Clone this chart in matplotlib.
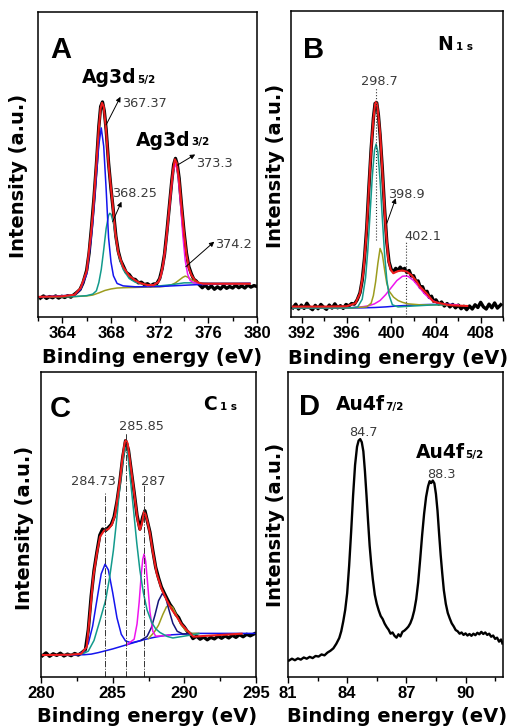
import matplotlib
matplotlib.use("Agg")
import matplotlib.pyplot as plt
from matplotlib.ticker import MultipleLocator

plt.rcParams['font.family'] = ['Liberation Sans', 'DejaVu Sans']
plt.rcParams['font.weight'] = 'bold'

RED = '#ee1c1c'
BLUE = '#1414ee'
TEAL = '#129a8c'
OLIVE = '#9c9c1e'
MAGENTA = '#ee14ee'
NAVY = '#14147a'
GRAY = '#3a3a3a'

# ---------- panel A : Ag 3d ----------
A_RAW = [(362.2, 6.2), (362.45, 6.9), (362.7, 6.1), (362.95, 6.7), (363.2, 6.3), (363.45, 6.9),
         (363.7, 6.2), (363.95, 6.8), (364.2, 6.4), (364.45, 7.0), (364.7, 6.5), (364.95, 7.3),
         (365.2, 8.1), (365.45, 9.0), (365.7, 11.2), (366.0, 15.3), (366.2, 21.0), (366.4, 29.5),
         (366.6, 39.0), (366.8, 50.0), (367.0, 62.5), (367.15, 69.0), (367.3, 70.5), (367.45, 67.5),
         (367.6, 61.5), (367.8, 50.5), (368.0, 42.0), (368.2, 34.5), (368.4, 26.5), (368.6, 21.5),
         (368.8, 18.5), (369.0, 16.8), (369.25, 14.6), (369.5, 13.9), (369.75, 12.5), (370.0, 12.3),
         (370.25, 11.2), (370.5, 11.4), (370.75, 10.6), (371.0, 10.9), (371.25, 10.2), (371.5, 10.8),
         (371.75, 10.9), (372.0, 12.6), (372.2, 15.8), (372.4, 20.6), (372.6, 28.2), (372.8, 36.5),
         (373.0, 44.8), (373.15, 50.0), (373.3, 52.0), (373.45, 50.0), (373.6, 45.5), (373.8, 36.5),
         (374.0, 28.0), (374.2, 21.0), (374.4, 16.5), (374.6, 14.2), (374.8, 12.4), (375.0, 11.8),
         (375.25, 10.6), (375.5, 9.6), (375.75, 10.5), (376.0, 9.3), (376.25, 10.2), (376.5, 9.1),
         (376.75, 9.9), (377.0, 9.2), (377.25, 10.3), (377.5, 9.4), (377.75, 10.0), (378.0, 9.5),
         (378.25, 10.4), (378.5, 9.6), (378.75, 10.2), (379.0, 9.5), (379.25, 10.5), (379.5, 9.8),
         (379.75, 10.3), (380.0, 10.0)]
A_RED = [(362.1, 6.6), (364.0, 6.8), (365.0, 7.3), (365.5, 9.5), (366.0, 15.0), (366.35, 27.0),
         (366.5, 33.5), (366.77, 48.5), (367.0, 62.0), (367.15, 68.5), (367.26, 70.2), (367.4, 69.0),
         (367.6, 61.0), (367.8, 50.0), (368.1, 38.4), (368.36, 27.5), (368.6, 21.0), (369.0, 16.4),
         (369.5, 13.5), (370.0, 12.0), (370.4, 11.1), (371.0, 10.5), (371.5, 10.4), (371.9, 11.5),
         (372.1, 13.6), (372.3, 17.7), (372.5, 23.8), (372.7, 32.0), (372.9, 40.5), (373.1, 48.2),
         (373.25, 51.7), (373.4, 50.5), (373.6, 45.0), (373.8, 36.0), (374.0, 27.5), (374.2, 20.5),
         (374.4, 16.0), (374.6, 13.8), (374.9, 12.0), (375.2, 11.2), (375.6, 10.9), (376.0, 10.9),
         (378.0, 10.9), (379.4, 10.9)]
A_BLUE = [(362.1, 6.6), (365.0, 7.2), (365.5, 9.0), (366.0, 14.0), (366.35, 25.0), (366.5, 31.0),
          (366.75, 44.0), (367.0, 56.5), (367.2, 62.0), (367.4, 56.0), (367.6, 42.0), (367.8, 26.0),
          (368.0, 18.0), (368.2, 13.5), (368.5, 11.0), (369.0, 10.2), (370.0, 9.9), (372.0, 10.0),
          (375.0, 10.6), (379.4, 11.0)]
A_TEAL = [(362.1, 6.6), (365.0, 6.7), (366.0, 7.0), (366.5, 7.5), (366.8, 8.6), (367.0, 11.3),
          (367.2, 15.6), (367.4, 22.0), (367.6, 29.0), (367.8, 33.3), (367.9, 34.0), (368.0, 33.7),
          (368.2, 30.9), (368.5, 23.3), (368.75, 18.5), (369.0, 15.6), (369.5, 12.6), (370.0, 11.4),
          (370.5, 10.9), (371.0, 10.4), (372.0, 10.2), (373.0, 10.6), (374.0, 11.2), (375.0, 11.2),
          (376.0, 11.1), (379.4, 11.1)]
A_MAGENTA = [(371.0, 10.3), (371.5, 10.5), (371.9, 11.5), (372.1, 13.5), (372.3, 17.5), (372.5, 23.5),
             (372.7, 31.5), (372.9, 40.0), (373.1, 47.5), (373.3, 50.5), (373.5, 47.0), (373.7, 38.0),
             (373.9, 27.0), (374.1, 18.5), (374.3, 14.0), (374.5, 12.0), (374.8, 11.2), (375.5, 11.0),
             (379.4, 11.0)]
A_OLIVE = [(362.1, 6.6), (365.0, 6.7), (366.0, 6.9), (366.5, 7.2), (367.0, 7.9), (367.5, 8.7),
           (368.0, 9.2), (368.5, 9.5), (369.0, 9.6), (370.0, 9.7), (371.0, 9.8), (372.0, 9.9),
           (372.5, 10.1), (373.0, 10.6), (373.3, 11.2), (373.6, 12.1), (373.9, 13.0), (374.1, 13.4),
           (374.3, 13.1), (374.6, 12.2), (375.0, 11.5), (375.5, 11.1), (376.0, 11.0), (378.0, 11.0),
           (379.4, 11.0)]
# (label, arrow tail, arrow head, text anchor)
A_NOTES = [('367.37', (367.6, 63.0), (368.78, 72.2), (368.94, 68.9)),
           ('368.25', (368.14, 31.3), (368.86, 37.8), (368.09, 39.4)),
           ('373.3', (373.46, 49.8), (374.92, 53.3), (374.98, 49.3)),
           ('374.2', (374.15, 16.5), (376.49, 24.7), (376.57, 22.7))]

# ---------- panel B : N 1s ----------
B_RAW = [(391.2, 3.0), (391.45, 4.2), (391.7, 2.6), (391.95, 3.9), (392.2, 2.8), (392.45, 4.5),
         (392.7, 3.1), (392.95, 2.4), (393.2, 3.8), (393.45, 2.7), (393.7, 4.1), (393.95, 3.2),
         (394.2, 2.5), (394.45, 3.9), (394.7, 2.9), (394.95, 4.3), (395.2, 3.0), (395.45, 3.7),
         (395.7, 2.8), (395.95, 4.1), (396.2, 3.6), (396.45, 4.4), (396.7, 4.2), (396.95, 5.6),
         (397.2, 7.9), (397.4, 12.0), (397.6, 19.0), (397.8, 29.0), (398.0, 42.5), (398.2, 55.0),
         (398.4, 65.0), (398.55, 69.8), (398.7, 70.0), (398.85, 66.0), (399.0, 59.5), (399.2, 48.5),
         (399.4, 35.5), (399.6, 24.5), (399.8, 18.0), (400.0, 15.5), (400.2, 14.8), (400.4, 15.9),
         (400.6, 15.2), (400.8, 16.3), (401.0, 15.4), (401.2, 15.9), (401.4, 14.5), (401.6, 15.2),
         (401.8, 13.4), (402.0, 13.5), (402.2, 11.6), (402.4, 11.8), (402.6, 9.6), (402.8, 9.9),
         (403.0, 8.0), (403.2, 8.4), (403.4, 6.4), (403.6, 6.8), (403.8, 5.1), (404.0, 5.6),
         (404.25, 4.2), (404.5, 4.9), (404.75, 3.6), (405.0, 4.4), (405.25, 3.3), (405.5, 4.1),
         (405.75, 3.0), (406.0, 3.9), (406.25, 2.7), (406.5, 3.5), (406.75, 2.4), (407.0, 3.6),
         (407.25, 2.6), (407.5, 4.0), (407.75, 3.1), (408.0, 4.8), (408.25, 3.3), (408.5, 2.6),
         (408.75, 4.2), (409.0, 3.0), (409.25, 4.6), (409.5, 2.9), (409.8, 4.0)]
B_RED = [(391.2, 3.4), (394.0, 3.4), (396.0, 3.5), (396.8, 4.5), (397.2, 7.7), (397.5, 14.5),
         (397.74, 25.2), (397.9, 35.0), (398.1, 49.1), (398.25, 57.5), (398.4, 64.5), (398.55, 69.5),
         (398.64, 70.4), (398.75, 69.0), (398.9, 64.0), (399.0, 60.0), (399.2, 48.0), (399.35, 38.2),
         (399.5, 29.0), (399.74, 18.6), (399.95, 15.5), (400.18, 14.3), (400.6, 15.0), (401.0, 15.2),
         (401.4, 14.8), (401.8, 13.7), (402.28, 11.6), (402.57, 9.9), (403.17, 7.7), (403.77, 5.0),
         (404.37, 4.5), (405.0, 4.0), (405.5, 3.8), (406.8, 3.6)]
B_BLUE = [(391.2, 2.9), (396.0, 2.9), (397.5, 3.0), (398.5, 3.1), (399.5, 3.3), (400.5, 3.6),
          (401.5, 3.8), (402.5, 4.0), (403.5, 4.1), (405.5, 4.1)]
B_TEAL = [(391.2, 3.0), (396.5, 3.0), (397.0, 3.3), (397.4, 5.8), (397.7, 12.8), (397.9, 21.7),
          (398.1, 33.5), (398.3, 45.8), (398.5, 54.5), (398.64, 56.5), (398.8, 54.0), (399.0, 44.6),
          (399.2, 32.2), (399.4, 20.7), (399.6, 12.2), (399.8, 7.2), (400.1, 4.0), (400.6, 3.3),
          (402.0, 3.6), (404.0, 4.0), (405.0, 4.0)]
B_OLIVE = [(391.2, 3.0), (396.5, 3.0), (397.8, 3.3), (398.2, 4.5), (398.4, 7.0), (398.6, 11.5),
           (398.8, 17.5), (399.0, 22.4), (399.2, 20.5), (399.4, 15.5), (399.6, 11.0), (399.8, 8.5),
           (400.2, 6.5), (400.6, 5.4), (401.0, 4.8), (401.5, 4.3), (402.5, 4.0), (405.0, 4.0)]
B_MAGENTA = [(396.0, 3.0), (397.0, 3.2), (397.5, 3.4), (398.0, 3.7), (398.5, 4.3), (399.0, 5.4),
             (399.5, 7.3), (400.0, 9.6), (400.5, 11.9), (401.0, 13.3), (401.23, 13.4), (401.5, 13.3),
             (402.0, 11.9), (402.5, 9.7), (403.0, 7.5), (403.5, 5.8), (404.0, 4.8), (404.5, 4.3),
             (405.0, 4.1), (406.0, 4.0)]
# (label, dotted line x, line bottom, line top, text x, text baseline y)
B_MARKS = [('298.7', 398.64, 25.2, 75.0, 398.92, 75.8),
           ('402.1', 401.3, 0.0, 24.6, 402.8, 25.2)]
B_NOTE = ('398.9', (399.6, 30.6), (400.4, 38.8), (399.74, 38.9))

# ---------- panel C : C 1s ----------
C_RAW = [(280.1, 7.0), (280.35, 7.9), (280.6, 6.8), (280.85, 7.6), (281.1, 7.1), (281.35, 7.8),
         (281.6, 6.9), (281.85, 7.5), (282.1, 7.0), (282.35, 7.7), (282.6, 7.2), (282.85, 8.0),
         (283.1, 9.0), (283.3, 15.5), (283.5, 26.5), (283.7, 35.0), (283.9, 41.0), (284.1, 46.5),
         (284.3, 48.5), (284.5, 48.0), (284.7, 49.0), (284.9, 50.0), (285.1, 52.5), (285.3, 57.5),
         (285.5, 64.0), (285.7, 72.0), (285.9, 77.5), (286.1, 74.5), (286.3, 67.5), (286.5, 60.5),
         (286.7, 53.0), (286.9, 48.5), (287.1, 52.5), (287.25, 54.5), (287.4, 51.5), (287.6, 47.5),
         (287.8, 41.5), (288.0, 36.0), (288.2, 32.5), (288.4, 29.5), (288.6, 27.5), (288.8, 25.6),
         (289.0, 23.8), (289.2, 22.5), (289.4, 20.6), (289.6, 19.5), (289.8, 17.5), (290.0, 16.4),
         (290.2, 15.0), (290.4, 14.2), (290.6, 12.6), (290.85, 13.4), (291.1, 12.4), (291.35, 13.1),
         (291.6, 12.2), (291.85, 13.0), (292.1, 12.5), (292.35, 13.4), (292.6, 12.7), (292.85, 13.5),
         (293.1, 12.8), (293.35, 13.7), (293.6, 13.0), (293.85, 13.9), (294.1, 13.2), (294.35, 14.0),
         (294.6, 13.5), (294.9, 14.2)]
C_RED = [(280.1, 7.2), (282.0, 7.3), (282.8, 7.6), (283.19, 9.9), (283.4, 20.0), (283.65, 32.9),
         (283.9, 40.5), (284.12, 46.0), (284.4, 48.0), (284.7, 48.5), (284.95, 50.0), (285.16, 53.0),
         (285.35, 59.0), (285.51, 64.5), (285.7, 72.5), (285.85, 77.0), (285.93, 77.7), (286.05, 76.5),
         (286.2, 71.0), (286.4, 64.0), (286.56, 58.0), (286.75, 51.0), (286.9, 48.2), (287.05, 50.5),
         (287.19, 54.2), (287.3, 53.2), (287.45, 50.5), (287.6, 47.1), (287.8, 41.0), (288.07, 34.0),
         (288.4, 29.0), (288.77, 25.2), (289.1, 22.3), (289.47, 19.8), (289.8, 17.3), (290.17, 15.4),
         (290.63, 13.2), (291.2, 13.4), (294.0, 14.2)]
C_BG = [(280.1, 7.2), (283.0, 7.3), (283.5, 7.5), (284.0, 8.0), (284.5, 8.6), (285.0, 9.2),
        (285.5, 9.9), (286.0, 10.6), (286.5, 11.3), (287.0, 12.0), (287.5, 12.6), (288.0, 13.1),
        (288.5, 13.5), (289.0, 13.8), (290.0, 14.1), (291.0, 14.3), (295.0, 14.3)]
C_BLUE = [(280.1, 7.2), (282.5, 7.3), (283.0, 8.3), (283.3, 11.0), (283.6, 16.6), (283.9, 25.2),
          (284.2, 33.8), (284.47, 37.0), (284.7, 35.1), (285.0, 27.7), (285.3, 19.4), (285.6, 14.0),
          (285.9, 11.8), (286.3, 11.2), (287.0, 12.0)]
C_TEAL = [(280.1, 7.2), (282.5, 7.4), (283.0, 7.8), (283.3, 8.5), (283.7, 12.0), (284.12, 18.7),
          (284.5, 25.0), (284.8, 33.0), (285.05, 41.5), (285.28, 51.6), (285.45, 60.0), (285.63, 68.0),
          (285.8, 73.5), (285.93, 75.3), (286.05, 73.5), (286.21, 66.0), (286.45, 55.0), (286.68, 44.0),
          (286.9, 35.0), (287.14, 27.7), (287.4, 22.0), (287.72, 17.9), (288.0, 15.8), (288.3, 14.6),
          (288.8, 13.3), (289.2, 12.8), (290.0, 13.4), (291.0, 14.2)]
C_MAGENTA = [(286.0, 10.6), (286.5, 12.4), (286.7, 17.4), (286.85, 24.6), (287.0, 33.9), (287.1, 38.6),
             (287.19, 40.3), (287.3, 38.0), (287.45, 30.1), (287.6, 21.4), (287.8, 15.0), (288.0, 13.4),
             (288.5, 13.5), (289.0, 13.8)]
C_NAVY = [(287.0, 12.1), (287.4, 13.3), (287.7, 16.2), (287.95, 20.3), (288.2, 25.0), (288.47, 27.4),
          (288.7, 26.0), (288.95, 21.6), (289.2, 17.6), (289.5, 15.0), (289.9, 14.1), (290.5, 14.2)]
C_OLIVE = [(287.5, 12.6), (287.9, 14.7), (288.2, 17.0), (288.5, 20.5), (288.75, 23.0), (288.95, 23.6),
           (289.2, 22.7), (289.5, 19.8), (289.8, 17.0), (290.1, 15.2), (290.5, 14.3), (291.0, 14.3)]
# (label, dash-dot line x, line top, text x, text baseline y)
C_MARKS = [('284.73', 284.47, 60.8, 283.65, 63.0),
           ('285.85', 285.91, 80.0, 287.03, 81.0),
           ('287', 287.19, 63.0, 287.84, 63.0)]

# ---------- panel D : Au 4f ----------
D_RAW = [(81.05, 5.4), (81.2, 6.0), (81.35, 5.5), (81.5, 6.1), (81.65, 5.7), (81.8, 6.4), (81.95, 6.0),
         (82.1, 6.6), (82.25, 6.2), (82.4, 6.9), (82.55, 6.7), (82.7, 7.4), (82.85, 7.1), (83.0, 8.0),
         (83.15, 8.6), (83.3, 9.4), (83.45, 10.9), (83.6, 12.8), (83.7, 15.0), (83.8, 18.2), (83.9, 22.0),
         (84.0, 27.5), (84.1, 36.5), (84.2, 47.5), (84.3, 59.5), (84.4, 69.5), (84.5, 75.5), (84.58, 77.5),
         (84.66, 78.0), (84.74, 77.0), (84.82, 74.0), (84.9, 67.5), (84.98, 59.5), (85.06, 51.0),
         (85.14, 43.0), (85.22, 37.0), (85.3, 32.0), (85.4, 27.0), (85.5, 24.0), (85.6, 21.8), (85.7, 20.0),
         (85.8, 19.0), (85.9, 17.5), (86.0, 16.4), (86.1, 15.5), (86.2, 14.2), (86.3, 14.6), (86.4, 13.5),
         (86.5, 12.9), (86.6, 14.0), (86.7, 13.3), (86.8, 14.8), (86.9, 15.2), (87.0, 15.8), (87.1, 16.5),
         (87.2, 17.6), (87.3, 19.3), (87.4, 21.8), (87.5, 25.5), (87.6, 31.0), (87.7, 38.5), (87.8, 46.5),
         (87.9, 53.5), (88.0, 59.0), (88.1, 62.5), (88.18, 64.2), (88.26, 63.6), (88.34, 64.4),
         (88.42, 63.5), (88.5, 60.0), (88.58, 54.5), (88.66, 47.0), (88.74, 40.0), (88.82, 34.0),
         (88.9, 28.5), (89.0, 24.0), (89.1, 21.0), (89.2, 19.2), (89.3, 17.6), (89.4, 16.6), (89.5, 15.4),
         (89.6, 15.0), (89.7, 14.2), (89.8, 14.6), (89.9, 13.8), (90.0, 14.3), (90.1, 13.6), (90.2, 14.1),
         (90.3, 13.5), (90.4, 14.2), (90.5, 13.7), (90.6, 14.5), (90.7, 14.0), (90.8, 14.8), (90.9, 14.1),
         (91.0, 14.6), (91.1, 13.8), (91.2, 14.2), (91.3, 13.2), (91.4, 13.6), (91.5, 12.5), (91.6, 12.9),
         (91.7, 11.6), (91.8, 12.3), (91.87, 11.0)]
# (label, text x, text baseline y)
D_MARKS = [('84.7', 84.8, 79.0), ('88.3', 88.76, 65.1)]


def xy(pts):
    return [p[0] for p in pts], [p[1] for p in pts]


def px_box(l, t, r, b):
    return [l / 514, 1 - b / 727, (r - l) / 514, (b - t) / 727]


def style(ax, xlim, major, minor, xlab_pos, ylab_pos):
    ax.set_xlim(*xlim)
    ax.set_ylim(0, 100)
    ax.set_xticks(major)
    ax.xaxis.set_minor_locator(MultipleLocator(minor))
    ax.set_yticks([])
    ax.tick_params(axis='x', which='both', direction='out', top=False, width=1.0,
                   labelsize=12, pad=2.5)
    ax.tick_params(axis='x', which='major', length=4)
    ax.tick_params(axis='x', which='minor', length=3)
    for s in ax.spines.values():
        s.set_linewidth(1.1)
    ax.set_xlabel('Binding energy (eV)', family='DejaVu Sans', weight='bold', fontsize=14,
                  va='baseline', ha='center')
    ax.xaxis.set_label_coords(*xlab_pos)
    ax.set_ylabel('Intensity (a.u.)', family='DejaVu Sans', weight='bold', fontsize=14,
                  va='center', ha='center')
    ax.yaxis.set_label_coords(*ylab_pos)


def letter(ax, s, x, y):
    ax.text(x, y, s, transform=ax.transAxes, fontsize=21, weight='bold',
            family='Liberation Sans', va='baseline')


def sub_label(ax, main, sub, x, y, transform=None, gap=0.5):
    t = ax.text(x, y, main, family='DejaVu Sans', weight='bold', fontsize=13.5,
                va='baseline', transform=transform or ax.transData)
    ax.annotate(sub, xy=(1, 0), xycoords=t, xytext=(gap, 3.1), textcoords='offset points',
                family='DejaVu Sans', weight='bold', fontsize=7.5, va='baseline')


def note(ax, s, x, y, ha='left'):
    ax.text(x, y, s, family='DejaVu Sans', weight='normal', fontsize=9.3, color=GRAY,
            ha=ha, va='baseline')


def arrow(ax, tail, head):
    ax.annotate('', xy=head, xytext=tail,
                arrowprops=dict(arrowstyle='-|>', color='black', lw=0.7,
                                mutation_scale=7, shrinkA=0, shrinkB=0))


fig = plt.figure(figsize=(5.14, 7.27), dpi=100)

# ---- A ----
ax = fig.add_axes(px_box(38, 12, 257, 317))
ax.plot(*xy(A_RAW), color='black', lw=2.4)
ax.plot(*xy(A_OLIVE), color=OLIVE, lw=1.1)
ax.plot(*xy(A_TEAL), color=TEAL, lw=1.1)
ax.plot(*xy(A_BLUE), color=BLUE, lw=1.1)
ax.plot(*xy(A_MAGENTA), color=MAGENTA, lw=1.1)
ax.plot(*xy(A_RED), color=RED, lw=1.5)
style(ax, (362, 380), [364, 368, 372, 376, 380], 2, (0.52, -0.152), (-0.089, 0.462))
letter(ax, 'A', 0.055, 0.849)
sub_label(ax, 'Ag3d', '5/2', 365.64, 76.7)
sub_label(ax, 'Ag3d', '3/2', 370.07, 56.2)
for lab, tail, head, pos in A_NOTES:
    arrow(ax, tail, head)
    note(ax, lab, *pos)

# ---- B ----
ax = fig.add_axes(px_box(290.7, 11, 503, 317))
ax.plot(*xy(B_RAW), color='black', lw=2.4)
ax.plot(*xy(B_BLUE), color=BLUE, lw=1.1)
ax.plot(*xy(B_MAGENTA), color=MAGENTA, lw=1.1)
ax.plot(*xy(B_OLIVE), color=OLIVE, lw=1.1)
ax.plot(*xy(B_TEAL), color=TEAL, lw=1.1)
ax.plot(*xy(B_RED), color=RED, lw=1.5)
style(ax, (391, 410), [392, 396, 400, 404, 408], 2, (0.506, -0.155), (-0.070, 0.494))
letter(ax, 'B', 0.059, 0.845)
sub_label(ax, 'N', '1 s', 0.688, 0.873, transform=ax.transAxes, gap=2.5)
for lab, lx, y0, y1, tx, ty in B_MARKS:
    ax.plot([lx, lx], [y0, y1], ls=':', color='#333333', lw=0.8)
    note(ax, lab, tx, ty, ha='center')
lab, tail, head, pos = B_NOTE
arrow(ax, tail, head)
note(ax, lab, *pos)

# ---- C ----
ax = fig.add_axes(px_box(41, 372, 256, 677))
ax.plot(*xy(C_RAW), color='black', lw=2.4)
ax.plot(*xy(C_BG), color=BLUE, lw=1.1)
ax.plot(*xy(C_BLUE), color=BLUE, lw=1.1)
ax.plot(*xy(C_OLIVE), color=OLIVE, lw=1.1)
ax.plot(*xy(C_NAVY), color=NAVY, lw=1.1)
ax.plot(*xy(C_MAGENTA), color=MAGENTA, lw=1.1)
ax.plot(*xy(C_TEAL), color=TEAL, lw=1.1)
ax.plot(*xy(C_RED), color=RED, lw=1.5)
style(ax, (280, 295), [280, 285, 290, 295], 2.5, (0.495, -0.147), (-0.079, 0.490))
letter(ax, 'C', 0.042, 0.853)
sub_label(ax, 'C', '1 s', 0.752, 0.875, transform=ax.transAxes, gap=2.5)
for lab, lx, top, tx, ty in C_MARKS:
    ax.plot([lx, lx], [0, top], ls='-.', color='#333333', lw=0.7)
    note(ax, lab, tx, ty, ha='center')

# ---- D ----
ax = fig.add_axes(px_box(288, 372, 503, 677))
ax.plot(*xy(D_RAW), color='black', lw=1.7)
style(ax, (81, 91.9), [81, 84, 87, 90], 1.5, (0.505, -0.147), (-0.057, 0.497))
letter(ax, 'D', 0.053, 0.859)
sub_label(ax, 'Au4f', '7/2', 83.42, 87.5)
sub_label(ax, 'Au4f', '5/2', 87.46, 71.7)
for lab, tx, ty in D_MARKS:
    note(ax, lab, tx, ty, ha='center')

fig.savefig('out.png', dpi=100)
